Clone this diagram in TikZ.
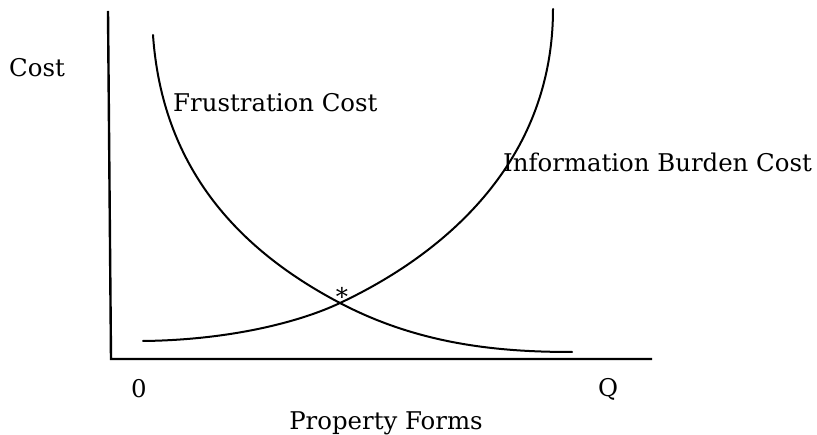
\documentclass[tikz,border=0pt]{standalone}
\usepackage{fontspec}
\setmainfont{DejaVu Serif}
\begin{document}
\begin{tikzpicture}[x=1pt,y=-1pt,
  lbl/.style={inner sep=0pt,font=\fontsize{24.4}{28}\selectfont},
  curve/.style={line width=2pt,line cap=round},
  axis/.style={line width=2.4pt}]
\useasboundingbox (0,0) rectangle (817,435);
% axes
\coordinate (top) at (108,11);
\coordinate (orig) at (111,359);
\coordinate (xend) at (652,359);
\draw[axis] (top) -- (orig) -- (xend);
% curves
\coordinate (fs) at (153,35);
\coordinate (eq) at (340,303);
\coordinate (fe) at (572,352);
\coordinate (is) at (143,341);
\coordinate (ie) at (553,9);
\draw[curve] (fs) .. controls (162,165) and (235,248) .. (eq) .. controls (420,345) and (500,352) .. (fe);
\draw[curve] (is) .. controls (230,340) and (300,322) .. (eq) .. controls (440,256) and (553,165) .. (ie);
% labels
\node[lbl,anchor=base west] (cost) at (9,77) {Cost};
\node[lbl,anchor=base west] (fc) at (173,112) {Frustration Cost};
\node[lbl,anchor=base west] (ibc) at (503,172) {Information Burden Cost};
\node[lbl,anchor=base] (zero) at (139,398) {0};
\node[lbl,anchor=base] (q) at (608,397) {Q};
\node[lbl,anchor=base] (pf) at (386,430) {Property Forms};
\node[lbl,anchor=base] (star) at (342,306) {*};
\end{tikzpicture}
\end{document}
